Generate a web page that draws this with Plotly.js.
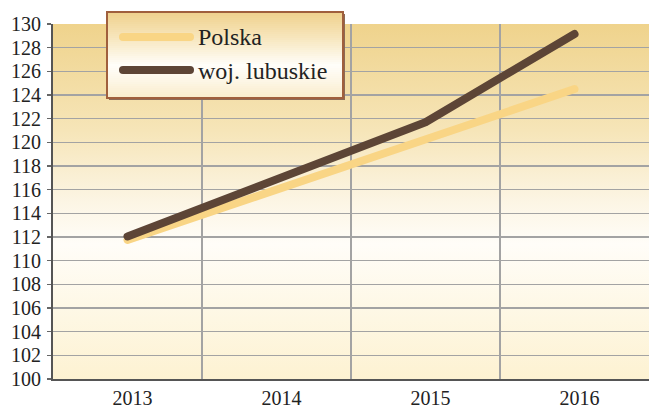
<!DOCTYPE html>
<html>
<head>
<meta charset="utf-8">
<script src="https://cdn.plot.ly/plotly-3.0.1.min.js"></script>
<style>
  html, body { margin: 0; padding: 0; background: #ffffff; }
  #wrap { position: relative; width: 649px; height: 408px; }
  #bg { position: absolute; left: 53px; top: 24px; width: 596px; height: 355px;
        background: linear-gradient(to bottom, #efd38c 0%, #f6e5b8 30%, #fcf5e4 50%, #fffdf8 62%, #fef8e6 80%, #fdf2d2 100%); }
  #chart { position: absolute; left: 0; top: 0; width: 649px; height: 408px; }
  #chart .scatterlayer path.js-line { stroke-linecap: round; stroke-linejoin: round; }
  #chart .shapelayer path.legline { stroke-linecap: round; }
</style>
</head>
<body>
<div id="wrap"><div id="bg"></div><div id="chart"></div></div>
<script>
const years = ['2013', '2014', '2015', '2016'];
const seriesNames = ['Polska', 'woj. lubuskie'];
const polska = [111.75, 116.0, 120.3, 124.5];
const lubuskie = [112.05, 116.9, 121.7, 129.15];
const yTicks = [100, 102, 104, 106, 108, 110, 112, 114, 116, 118, 120, 122, 124, 126, 128, 130];

const colors = ['#f9d585', '#5d4536'];
const W = 649, H = 408;
const M = { l: 53, r: 0, t: 24, b: 29 };
const PW = W - M.l - M.r, PH = H - M.t - M.b;
const px2x = p => (p - M.l) / PW;
const px2y = p => (H - M.b - p) / PH;

const FONT = 'Liberation Serif, Times New Roman, serif';

const traces = [
  { x: years, y: polska, name: seriesNames[0], type: 'scatter', mode: 'lines',
    line: { color: colors[0], width: 8 }, hoverinfo: 'skip' },
  { x: years, y: lubuskie, name: seriesNames[1], type: 'scatter', mode: 'lines',
    line: { color: colors[1], width: 8 }, hoverinfo: 'skip' }
];

const box = { x0: 107, x1: 343, y0: 12, y1: 98 };
const shapes = [];
shapes.push({ type: 'rect', xref: 'paper', yref: 'paper', layer: 'above',
  x0: px2x(box.x0 + 2), x1: px2x(box.x1 + 2), y0: px2y(box.y1 + 2), y1: px2y(box.y0 + 2),
  fillcolor: '#8c6a55', line: { width: 0 } });
function lerp(a, b, t) { return Math.round(a + (b - a) * t); }
function hex(c) { return [1, 3, 5].map(i => parseInt(c.substr(i, 2), 16)); }
const stops = [[0, '#efd18c'], [0.3, '#f7e6bd'], [0.62, '#fffefa'], [0.8, '#fdf6e6'], [1, '#f9eccb']];
function colAt(t) {
  for (let i = 0; i < stops.length - 1; i++) {
    if (t >= stops[i][0] && t <= stops[i + 1][0]) {
      const u = (t - stops[i][0]) / (stops[i + 1][0] - stops[i][0]);
      const a = hex(stops[i][1]), b = hex(stops[i + 1][1]);
      return 'rgb(' + lerp(a[0], b[0], u) + ',' + lerp(a[1], b[1], u) + ',' + lerp(a[2], b[2], u) + ')';
    }
  }
  return stops[stops.length - 1][1];
}
const N = 43;
for (let i = 0; i < N; i++) {
  const ya = box.y0 + (box.y1 - box.y0) * i / N;
  const yb = box.y0 + (box.y1 - box.y0) * (i + 1) / N;
  shapes.push({ type: 'rect', xref: 'paper', yref: 'paper', layer: 'above',
    x0: px2x(box.x0), x1: px2x(box.x1), y0: px2y(yb + 0.5), y1: px2y(ya),
    fillcolor: colAt((i + 0.5) / N), line: { width: 0 } });
}
shapes.push({ type: 'rect', xref: 'paper', yref: 'paper', layer: 'above',
  x0: px2x(box.x0), x1: px2x(box.x1), y0: px2y(box.y1), y1: px2y(box.y0),
  fillcolor: 'rgba(0,0,0,0)', line: { color: '#a05f3d', width: 2 } });
const rowY = [37, 70];
const annotations = [];
const legLineIdx = [];
seriesNames.forEach((nm, i) => {
  legLineIdx.push(shapes.length);
  shapes.push({ type: 'line', xref: 'paper', yref: 'paper', layer: 'above',
    x0: px2x(123), x1: px2x(190), y0: px2y(rowY[i]), y1: px2y(rowY[i]),
    line: { color: colors[i], width: 8 } });
  annotations.push({ text: nm, xref: 'paper', yref: 'paper', showarrow: false,
    x: px2x(196), y: px2y(rowY[i] + 0.5), xanchor: 'left', yanchor: 'middle',
    font: { family: FONT, size: 24, color: '#222222' } });
});

const layout = {
  width: W, height: H,
  margin: M,
  paper_bgcolor: 'rgba(0,0,0,0)',
  plot_bgcolor: 'rgba(0,0,0,0)',
  showlegend: false,
  font: { family: FONT, size: 20, color: '#222222' },
  xaxis: {
    type: 'category', range: [-0.5, 3.5], tickson: 'boundaries',
    showgrid: true, gridcolor: '#a3a3a3', gridwidth: 1.5,
    ticks: '', showline: true, linecolor: '#555555', linewidth: 2,
    tickfont: { family: FONT, size: 20, color: '#222222' },
    ticklabelshift: 5, ticklabelstandoff: 0, fixedrange: true
  },
  yaxis: {
    range: [100, 130], tickvals: yTicks, ticktext: yTicks.map(String),
    showgrid: true, gridcolor: '#a3a3a3', gridwidth: 1.5, zeroline: false,
    ticks: 'outside', ticklen: 4, tickcolor: '#666666', tickwidth: 1.5,
    showline: true, linecolor: '#555555', linewidth: 2,
    tickfont: { family: FONT, size: 20, color: '#222222' },
    ticklabelstandoff: 2, fixedrange: true
  },
  shapes: shapes,
  annotations: annotations
};

Plotly.newPlot('chart', traces, layout, { displayModeBar: false, staticPlot: true }).then(gd => {
  const paths = gd.querySelectorAll('.shapelayer path');
  legLineIdx.forEach(k => { if (paths[k]) paths[k].classList.add('legline'); });
});
</script>
</body>
</html>
